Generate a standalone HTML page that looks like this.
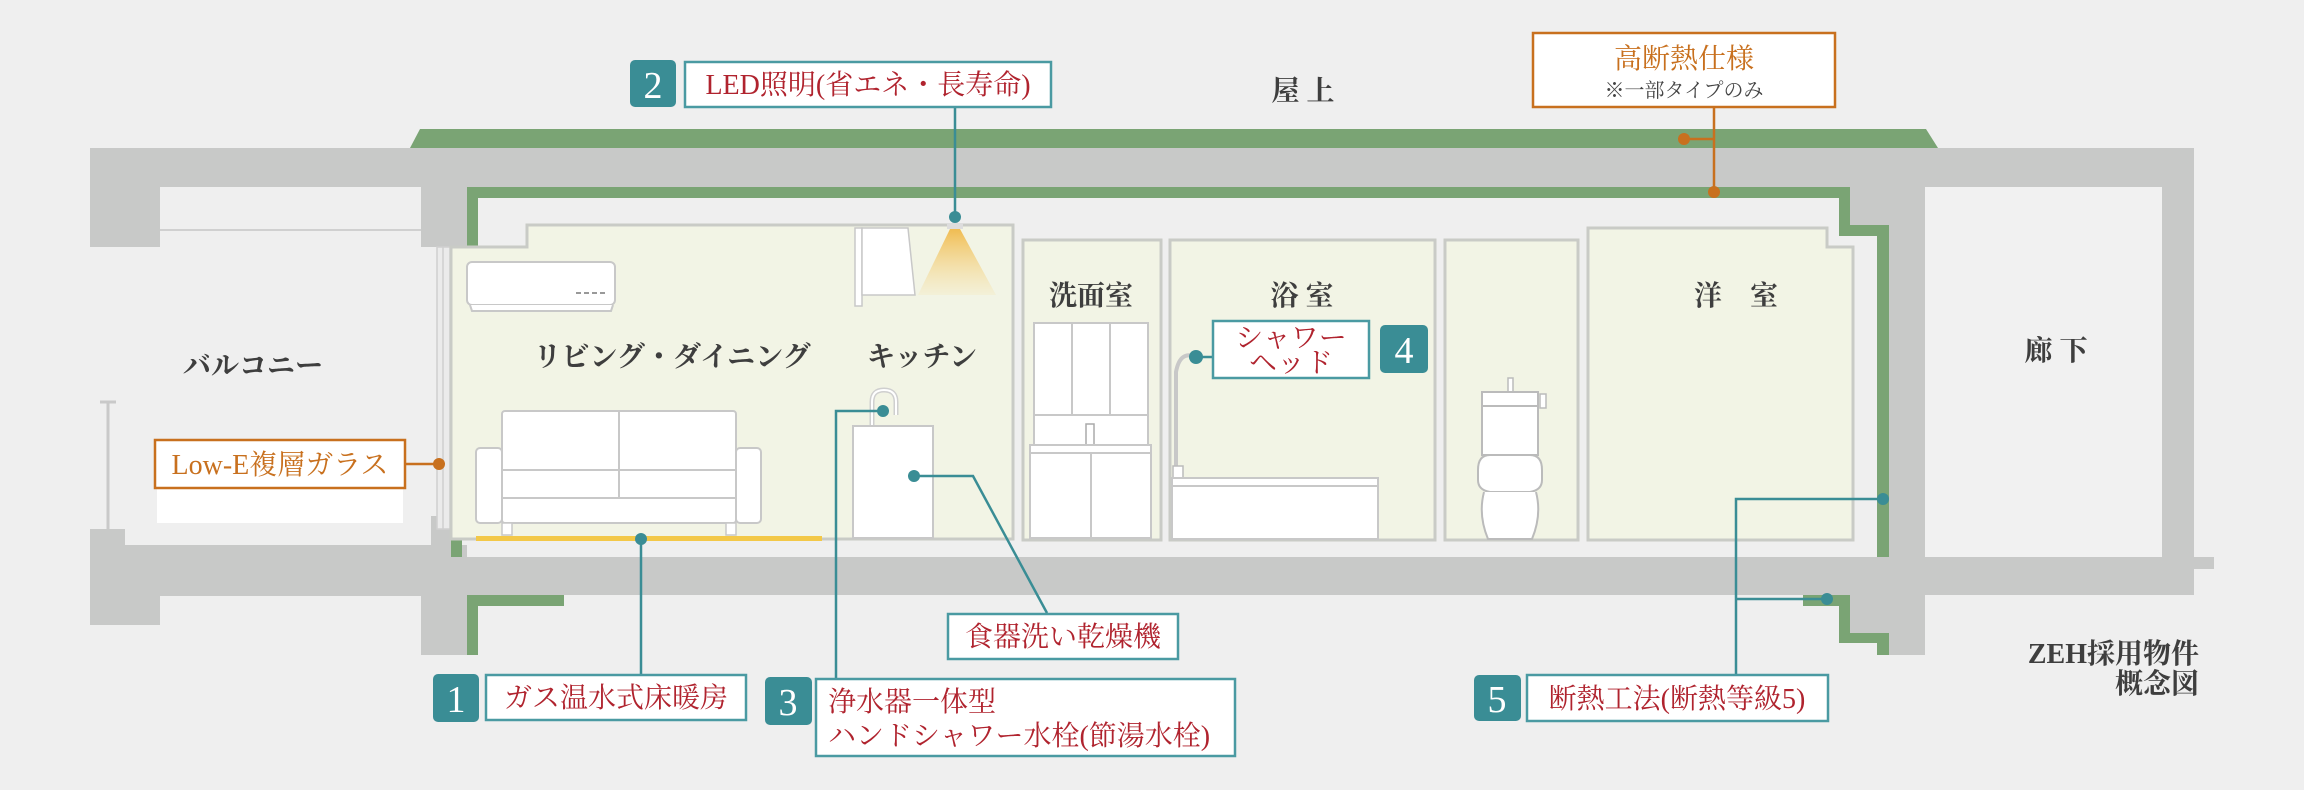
<!DOCTYPE html>
<html><head><meta charset="utf-8"><style>
html,body{margin:0;padding:0;background:#efefef;}
svg{display:block;}
.s{font-family:"Liberation Serif","Noto Serif CJK SC","Noto Serif CJK JP",serif;}
.rm{font-size:28px;fill:#3e3e3e;font-weight:bold;}
.lb{font-size:28px;fill:#b0232e;}
.num{font-size:38px;fill:#fff;}
</style></head><body>
<svg width="2304" height="790" viewBox="0 0 2304 790" xmlns="http://www.w3.org/2000/svg" class="s">
<defs>
<linearGradient id="lg" x1="0" y1="0" x2="0" y2="1">
<stop offset="0" stop-color="#f0b94a" stop-opacity="0.95"/>
<stop offset="1" stop-color="#f7d98c" stop-opacity="0.15"/>
</linearGradient>
</defs>
<rect width="2304" height="790" fill="#efefef"/>

<!-- roof green -->
<polygon points="420,129 1926,129 1938,148 410,148" fill="#7aa474"/>
<!-- top slab -->
<rect x="90" y="148" width="2104" height="39" fill="#c8c9c8"/>
<rect x="90" y="148" width="70" height="99" fill="#c8c9c8"/>
<rect x="421" y="148" width="46" height="99" fill="#c8c9c8"/>
<line x1="160" y1="230" x2="421" y2="230" stroke="#d0d0d0" stroke-width="2"/>
<!-- right gray -->
<rect x="1850" y="187" width="75" height="38" fill="#c8c9c8"/>
<rect x="1889" y="187" width="36" height="468" fill="#c8c9c8"/>
<rect x="2162" y="148" width="32" height="447" fill="#c8c9c8"/>
<rect x="1925" y="187" width="237" height="370" fill="#f1f1f1"/>
<!-- bottom slab -->
<rect x="90" y="529" width="35" height="96" fill="#c8c9c8"/>
<rect x="90" y="545" width="377" height="51" fill="#c8c9c8"/>
<rect x="90" y="596" width="70" height="29" fill="#c8c9c8"/>
<rect x="421" y="545" width="46" height="110" fill="#c8c9c8"/>
<rect x="431" y="516" width="20" height="29" fill="#c8c9c8"/>
<rect x="467" y="557" width="1727" height="38" fill="#c8c9c8"/>
<rect x="2194" y="557" width="20" height="12" fill="#c8c9c8"/>
<rect x="1850" y="595" width="75" height="38" fill="#c8c9c8"/>
<!-- green insulation -->
<rect x="467" y="187" width="1383" height="11" fill="#7aa474"/>
<rect x="467" y="187" width="11" height="60" fill="#7aa474"/>
<rect x="1839" y="187" width="11" height="48" fill="#7aa474"/>
<rect x="1839" y="225" width="50" height="11" fill="#7aa474"/>
<rect x="1877" y="225" width="12" height="332" fill="#7aa474"/>
<rect x="451" y="516" width="11" height="41" fill="#7aa474"/>
<rect x="467" y="595" width="97" height="11" fill="#7aa474"/>
<rect x="467" y="595" width="11" height="60" fill="#7aa474"/>
<rect x="1803" y="595" width="47" height="11" fill="#7aa474"/>
<rect x="1839" y="595" width="11" height="48" fill="#7aa474"/>
<rect x="1839" y="633" width="50" height="10" fill="#7aa474"/>
<rect x="1877" y="633" width="12" height="22" fill="#7aa474"/>

<!-- glass -->
<rect x="437" y="247" width="13" height="282" fill="#ebebeb" stroke="#cfcfcf" stroke-width="1.5"/>
<line x1="443" y1="247" x2="443" y2="529" stroke="#cfcfcf" stroke-width="1.5"/>
<!-- railing -->
<line x1="108" y1="402" x2="108" y2="529" stroke="#c9c9c9" stroke-width="3"/>
<line x1="100" y1="402" x2="116" y2="402" stroke="#c9c9c9" stroke-width="3"/>

<!-- rooms -->
<polygon points="451,247 527,247 527,225 1013,225 1013,539 451,539" fill="#f2f4e5" stroke="#c9cbc6" stroke-width="3"/>
<rect x="1023" y="240" width="138" height="300" fill="#f2f4e5" stroke="#c9cbc6" stroke-width="3"/>
<rect x="1170" y="240" width="265" height="300" fill="#f2f4e5" stroke="#c9cbc6" stroke-width="3"/>
<rect x="1445" y="240" width="133" height="300" fill="#f2f4e5" stroke="#c9cbc6" stroke-width="3"/>
<polygon points="1588,228 1827,228 1827,247 1853,247 1853,540 1588,540" fill="#f2f4e5" stroke="#c9cbc6" stroke-width="3"/>

<!-- AC -->
<rect x="467" y="262" width="148" height="43" rx="5" fill="#fff" stroke="#c8c8c8" stroke-width="2"/>
<path d="M470,305 L472,311 L611,311 L613,305" fill="#fff" stroke="#c8c8c8" stroke-width="2"/>
<line x1="576" y1="293" x2="608" y2="293" stroke="#999" stroke-width="2" stroke-dasharray="5,3"/>
<!-- hood -->
<rect x="855" y="228" width="7" height="78" fill="#fff" stroke="#c8c8c8" stroke-width="1.5"/>
<polygon points="862,228 908,228 915,295 862,295" fill="#fff" stroke="#c8c8c8" stroke-width="1.5"/>
<!-- light -->
<polygon points="950,229 960,229 996,295 918,295" fill="url(#lg)"/>
<rect x="947" y="223" width="16" height="6" fill="#ddd"/>
<!-- sofa -->
<rect x="476" y="448" width="26" height="75" rx="4" fill="#fff" stroke="#c8c8c8" stroke-width="2"/>
<rect x="736" y="448" width="25" height="75" rx="4" fill="#fff" stroke="#c8c8c8" stroke-width="2"/>
<rect x="502" y="411" width="234" height="112" rx="3" fill="#fff" stroke="#c8c8c8" stroke-width="2"/>
<line x1="619" y1="411" x2="619" y2="498" stroke="#c8c8c8" stroke-width="2"/>
<line x1="502" y1="470" x2="736" y2="470" stroke="#c8c8c8" stroke-width="2"/>
<line x1="502" y1="498" x2="736" y2="498" stroke="#c8c8c8" stroke-width="2"/>
<rect x="502" y="523" width="10" height="12" fill="#fff" stroke="#c8c8c8" stroke-width="1.5"/>
<rect x="726" y="523" width="10" height="12" fill="#fff" stroke="#c8c8c8" stroke-width="1.5"/>
<rect x="476" y="536" width="346" height="5" fill="#f3c848"/>
<!-- kitchen -->
<path d="M872,426 L872,402 Q872,390 884,390 Q896,390 896,402 L896,415" fill="none" stroke="#cfcfcf" stroke-width="5"/>
<path d="M872,426 L872,402 Q872,390 884,390 Q896,390 896,402 L896,415" fill="none" stroke="#fff" stroke-width="2"/>
<rect x="853" y="426" width="80" height="112" fill="#fff" stroke="#c8c8c8" stroke-width="2"/>
<!-- vanity -->
<rect x="1034" y="323" width="114" height="92" fill="#fff" stroke="#c8c8c8" stroke-width="2"/>
<line x1="1072" y1="323" x2="1072" y2="415" stroke="#c8c8c8" stroke-width="2"/>
<line x1="1110" y1="323" x2="1110" y2="415" stroke="#c8c8c8" stroke-width="2"/>
<rect x="1034" y="415" width="114" height="30" fill="#fff" stroke="#c8c8c8" stroke-width="2"/>
<rect x="1086" y="424" width="8" height="21" fill="#fff" stroke="#aaa" stroke-width="1.5"/>
<rect x="1030" y="445" width="121" height="8" fill="#fff" stroke="#c8c8c8" stroke-width="2"/>
<rect x="1030" y="453" width="121" height="85" fill="#fff" stroke="#c8c8c8" stroke-width="2"/>
<line x1="1091" y1="453" x2="1091" y2="538" stroke="#c8c8c8" stroke-width="2"/>
<!-- shower/tub -->
<path d="M1196,357 Q1180,350 1176,372 L1176,468" fill="none" stroke="#c8c8c8" stroke-width="4"/>
<rect x="1173" y="466" width="10" height="12" fill="#fff" stroke="#bbb" stroke-width="1.5"/>
<rect x="1172" y="478" width="206" height="8" fill="#fff" stroke="#c8c8c8" stroke-width="2"/>
<rect x="1172" y="486" width="206" height="53" fill="#fff" stroke="#c8c8c8" stroke-width="2"/>
<!-- toilet -->
<rect x="1508" y="378" width="5" height="14" fill="#fff" stroke="#bbb" stroke-width="1.5"/>
<rect x="1482" y="392" width="56" height="14" fill="#fff" stroke="#bbb" stroke-width="2"/>
<rect x="1540" y="394" width="6" height="14" fill="#fff" stroke="#bbb" stroke-width="1.5"/>
<path d="M1482,406 L1538,406 L1538,455 L1482,455 Z" fill="#fff" stroke="#bbb" stroke-width="2"/>
<path d="M1478,470 Q1478,455 1490,455 L1530,455 Q1542,455 1542,470 L1542,480 Q1542,490 1530,492 L1490,492 Q1478,490 1478,480 Z" fill="#fff" stroke="#bbb" stroke-width="2"/>
<path d="M1484,492 Q1478,515 1488,539 L1532,539 Q1542,515 1536,492" fill="#fff" stroke="#bbb" stroke-width="2"/>

<!-- room labels -->
<text x="1303" y="100" text-anchor="middle" class="rm" font-size="30">屋 上</text>
<text x="2056" y="360" text-anchor="middle" class="rm" font-size="30">廊 下</text>
<text x="253" y="375" text-anchor="middle" class="rm" font-size="26">バルコニー</text>
<text x="672" y="366" text-anchor="middle" class="rm" font-size="26">リビング・ダイニング</text>
<text x="922" y="366" text-anchor="middle" class="rm" font-size="26">キッチン</text>
<text x="1091" y="305" text-anchor="middle" class="rm">洗面室</text>
<text x="1302" y="305" text-anchor="middle" class="rm">浴 室</text>
<text x="1736" y="305" text-anchor="middle" class="rm">洋　室</text>
<text x="2199" y="663" text-anchor="end" class="rm" font-size="21">ZEH採用物件</text>
<text x="2199" y="693" text-anchor="end" class="rm" font-size="21">概念図</text>

<!-- teal connectors -->
<g stroke="#3a8d95" stroke-width="2.5" fill="none">
<line x1="955" y1="107" x2="955" y2="217"/>
<line x1="641" y1="538" x2="641" y2="676"/>
<polyline points="883,411 836,411 836,679"/>
<polyline points="914,476 973,476 1047,613"/>
<line x1="1196" y1="357" x2="1213" y2="357"/>
<polyline points="1883,499 1736,499 1736,675"/>
<line x1="1736" y1="599" x2="1827" y2="599"/>
</g>
<g fill="#3a8d95">
<circle cx="955" cy="217" r="6"/>
<circle cx="641" cy="539" r="6"/>
<circle cx="883" cy="411" r="6"/>
<circle cx="914" cy="476" r="6"/>
<circle cx="1196" cy="357" r="7"/>
<circle cx="1883" cy="499" r="6"/>
<circle cx="1827" cy="599" r="6"/>
</g>
<!-- orange connectors -->
<g stroke="#c8701e" stroke-width="2.5" fill="none">
<line x1="1714" y1="107" x2="1714" y2="192"/>
<line x1="1684" y1="139" x2="1714" y2="139"/>
<line x1="405" y1="464" x2="439" y2="464"/>
</g>
<g fill="#c8701e">
<circle cx="1714" cy="192" r="6"/>
<circle cx="1684" cy="139" r="6"/>
<circle cx="439" cy="464" r="6"/>
</g>

<!-- label boxes -->
<g fill="#fff" stroke="#4a9aa2" stroke-width="2.5">
<rect x="685" y="62" width="366" height="45"/>
<rect x="486" y="675" width="260" height="45"/>
<rect x="816" y="679" width="419" height="77"/>
<rect x="948" y="614" width="230" height="45"/>
<rect x="1213" y="321" width="156" height="57"/>
<rect x="1527" y="675" width="301" height="46"/>
</g>
<g fill="#3a8d95">
<rect x="630" y="60" width="46" height="47" rx="5"/>
<rect x="433" y="674" width="46" height="48" rx="5"/>
<rect x="765" y="677" width="47" height="48" rx="5"/>
<rect x="1380" y="325" width="48" height="48" rx="5"/>
<rect x="1474" y="675" width="47" height="46" rx="5"/>
</g>
<g class="num" text-anchor="middle">
<text x="653" y="98">2</text>
<text x="456" y="712">1</text>
<text x="788" y="715">3</text>
<text x="1404" y="363">4</text>
<text x="1497" y="712">5</text>
</g>
<text x="868" y="94" text-anchor="middle" class="lb">LED照明(省エネ・長寿命)</text>
<text x="616" y="707" text-anchor="middle" class="lb">ガス温水式床暖房</text>
<text x="828" y="711" class="lb">浄水器一体型</text>
<text x="828" y="745" class="lb">ハンドシャワー水栓(節湯水栓)</text>
<text x="1063" y="646" text-anchor="middle" class="lb">食器洗い乾燥機</text>
<text x="1291" y="347" text-anchor="middle" class="lb" font-size="24">シャワー</text>
<text x="1291" y="372" text-anchor="middle" class="lb" font-size="24">ヘッド</text>
<text x="1677" y="708" text-anchor="middle" class="lb">断熱工法(断熱等級5)</text>

<!-- orange boxes -->
<rect x="157" y="488" width="246" height="35" fill="#fff"/>
<rect x="155" y="440" width="250" height="48" fill="#fff" stroke="#c8701e" stroke-width="2.5"/>
<text x="280" y="474" text-anchor="middle" font-size="28" fill="#c8701e">Low-E複層ガラス</text>
<rect x="1533" y="33" width="302" height="74" fill="#fff" stroke="#c8701e" stroke-width="2.5"/>
<text x="1684" y="68" text-anchor="middle" font-size="28" fill="#c8701e">高断熱仕様</text>
<text x="1684" y="97" text-anchor="middle" font-size="20" fill="#444">※一部タイプのみ</text>
</svg>
</body></html>
